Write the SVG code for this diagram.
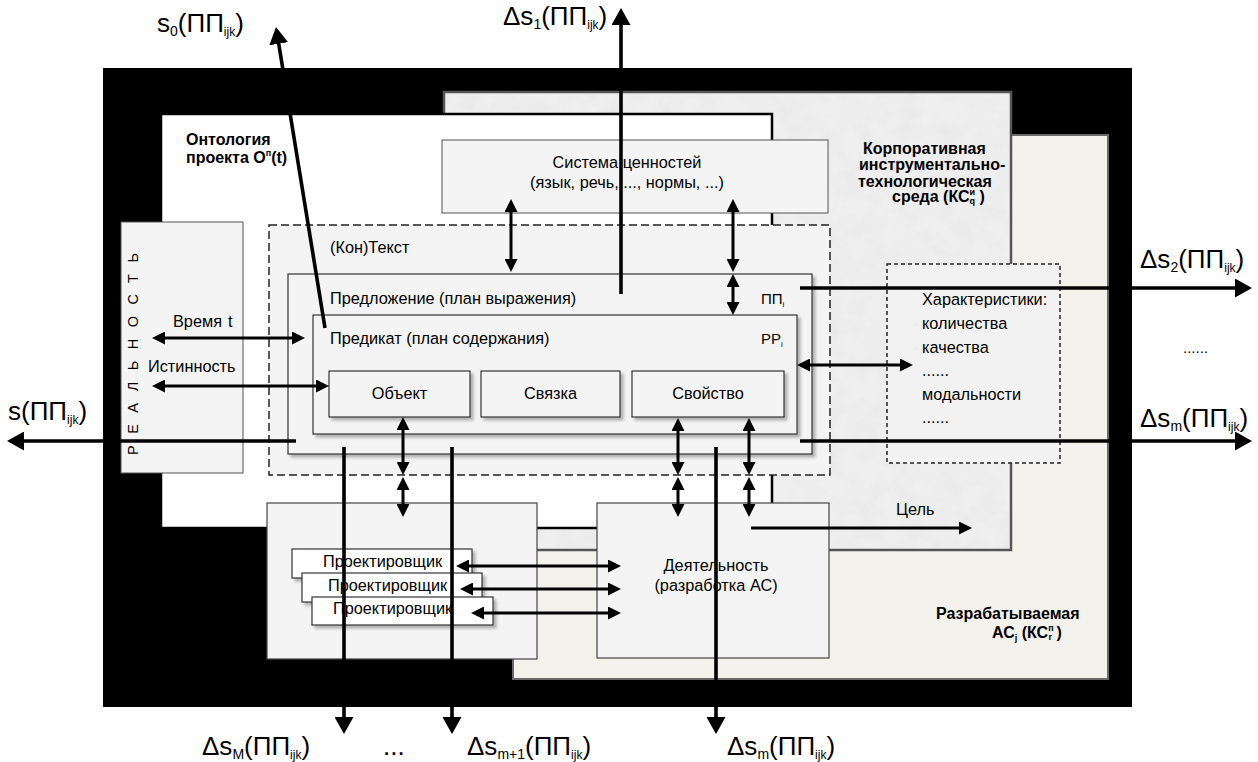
<svg xmlns="http://www.w3.org/2000/svg" width="1258" height="762" viewBox="0 0 1258 762">
<style>
text{font-family:"Liberation Sans",Arial,Helvetica,sans-serif;fill:#000}
.t16{font-size:16.3px}
.t15{font-size:15px}
.b{font-size:16px;font-weight:bold}
.big{font-size:26px}
.box{fill:#f4f4f4;stroke:#333;stroke-width:1.2}
.wbox{fill:#fff;stroke:#333;stroke-width:1.2}
.c{fill:none;stroke:#000;stroke-width:3}
.co{fill:none;stroke:#000;stroke-width:3.6}
.bi{marker-start:url(#am);marker-end:url(#am)}
.one{marker-end:url(#am)}
.out{marker-end:url(#ab)}
</style>
<defs>
<marker id="ab" markerUnits="userSpaceOnUse" markerWidth="17" markerHeight="19" viewBox="0 0 17 19" refX="2" refY="9.5" orient="auto-start-reverse"><path d="M0,0 L17,9.5 L0,19 z" fill="#000"/></marker>
<marker id="am" markerUnits="userSpaceOnUse" markerWidth="13" markerHeight="13" viewBox="0 0 13 13" refX="2" refY="6.5" orient="auto-start-reverse"><path d="M0,0 L13,6.5 L0,13 z" fill="#000"/></marker>
<filter id="sh" x="-10%" y="-10%" width="130%" height="140%"><feDropShadow dx="3" dy="3" stdDeviation="1.8" flood-color="#000" flood-opacity="0.28"/></filter>
<filter id="noise" x="0" y="0" width="1" height="1"><feTurbulence type="fractalNoise" baseFrequency="0.05" numOctaves="3" seed="7" result="n"/><feColorMatrix in="n" type="matrix" values="0 0 0 0 0.6  0 0 0 0 0.6  0 0 0 0 0.6  0.3 0 0 0 -0.1" result="g"/><feComposite in="g" in2="SourceGraphic" operator="in"/></filter>
</defs>

<g id="background">
<rect x="103" y="68" width="1029" height="639" fill="#000"/>
</g>

<g id="developed-system">
<rect x="513" y="135" width="595" height="544" fill="#f3f2ec" stroke="#6a6a6a" stroke-width="2"/>
<text class="b" x="936" y="619">Разрабатываемая</text>
<text class="b" x="992" y="638">АС<tspan font-size="9" dy="3">j</tspan><tspan dy="-3"> (КС</tspan><tspan font-size="9" dy="-7">п</tspan><tspan font-size="9" dx="-5" dy="9">r</tspan><tspan dy="-2"> )</tspan></text>
</g>

<g id="corporate-env">
<rect x="444" y="92" width="567" height="458" fill="#efefef" stroke="#555" stroke-width="2.5"/>
<rect x="445.5" y="93.5" width="564" height="455" fill="#fff" filter="url(#noise)"/>
<text class="b" x="863" y="153.5">Корпоративная</text>
<text class="b" x="859" y="170">инструментально-</text>
<text class="b" x="858" y="186.5">технологическая</text>
<text class="b" x="892" y="202">среда  (КС<tspan font-size="9" dy="-7">и</tspan><tspan font-size="9" dx="-5.5" dy="9">q</tspan><tspan dy="-2"> )</tspan></text>
</g>

<g id="ontology">
<rect x="161" y="114" width="611" height="414" fill="#fff" stroke="#000" stroke-width="2.5"/>
<text class="b" x="186" y="145">Онтология</text>
<text class="b" x="186" y="163">проекта O<tspan font-size="9" dy="-7">п</tspan><tspan dy="7">(t)</tspan></text>
</g>

<g id="reality">
<rect x="121" y="222" width="122" height="251" fill="#f4f4f4" stroke="#555" stroke-width="1"/>
<text transform="translate(138,455) rotate(-90)" font-size="14.5" textLength="202" lengthAdjust="spacing">РЕАЛЬНОСТЬ</text>
<text class="t16" x="173" y="327">Время  <tspan x="228">t</tspan></text>
<text class="t16" x="148" y="372">Истинность</text>
</g>

<g id="values">
<rect x="442" y="140" width="386" height="73" fill="#f4f4f4" stroke="#555" stroke-width="1"/>
<text class="t16" x="627" y="168" text-anchor="middle">Система ценностей</text>
<text class="t16" x="627" y="188" text-anchor="middle">(язык, речь, ..., нормы, ...)</text>
</g>

<g id="context">
<rect x="269" y="225" width="561" height="250" fill="#f4f4f4" stroke="#222" stroke-width="1.5" stroke-dasharray="8,4"/>
<text class="t16" x="330" y="253">(Кон)Текст</text>
</g>

<g id="sentence">
<rect x="288" y="274" width="524" height="180" class="box" filter="url(#sh)"/>
<text class="t16" x="330" y="304">Предложение (план выражения)</text>
<text class="t15" x="761" y="304">ПП<tspan font-size="8" dy="3">i</tspan></text>
</g>

<g id="predicate">
<rect x="313" y="315" width="484" height="119" class="box" filter="url(#sh)"/>
<text class="t16" x="330" y="344">Предикат (план содержания)</text>
<text class="t15" x="761" y="344">PP<tspan font-size="8" dy="3">i</tspan></text>
</g>

<g id="object">
<rect x="329" y="371" width="141" height="46" class="box" filter="url(#sh)"/>
<text class="t16" x="399.5" y="399" text-anchor="middle">Объект</text>
</g>
<g id="link">
<rect x="481" y="371" width="139" height="46" class="box" filter="url(#sh)"/>
<text class="t16" x="550.5" y="399" text-anchor="middle">Связка</text>
</g>
<g id="property">
<rect x="632" y="371" width="152" height="46" class="box" filter="url(#sh)"/>
<text class="t16" x="708" y="399" text-anchor="middle">Свойство</text>
</g>

<g id="characteristics">
<rect x="887" y="264" width="173" height="199" fill="#f2f2f2" stroke="#222" stroke-width="1.5" stroke-dasharray="4,3"/>
<text class="t16" x="922" y="305">Характеристики:</text>
<text class="t16" x="922" y="329">количества</text>
<text class="t16" x="922" y="353">качества</text>
<text class="t16" x="922" y="376">......</text>
<text class="t16" x="922" y="400">модальности</text>
<text class="t16" x="922" y="423">......</text>
</g>

<g id="designers">
<rect x="267" y="503" width="270" height="156" fill="#f4f4f4" stroke="#444" stroke-width="1.2"/>
<rect x="292" y="549" width="180" height="29" class="wbox" filter="url(#sh)"/>
<text class="t16" x="323" y="567">Проектировщик</text>
<rect x="302" y="573" width="180" height="29" class="wbox" filter="url(#sh)"/>
<text class="t16" x="328" y="591">Проектировщик</text>
<rect x="312" y="597" width="181" height="28" class="wbox" filter="url(#sh)"/>
<text class="t16" x="333" y="614">Проектировщик</text>
</g>

<g id="activity">
<rect x="597" y="503" width="232" height="155" fill="#f4f4f4" stroke="#444" stroke-width="1.2"/>
<text class="t16" x="716" y="571" text-anchor="middle">Деятельность</text>
<text class="t16" x="716" y="591" text-anchor="middle">(разработка АС)</text>
</g>

<g id="labels">
<text class="big" x="157" y="32">s<tspan font-size="14" dy="4">0</tspan><tspan dy="-4">(ПП</tspan><tspan font-size="12" dy="4">ijk</tspan><tspan dy="-4">)</tspan></text>
<text class="big" x="503" y="25">Δs<tspan font-size="14" dy="4">1</tspan><tspan dy="-4">(ПП</tspan><tspan font-size="12" dy="4">ijk</tspan><tspan dy="-4">)</tspan></text>
<text class="big" x="1140" y="268">Δs<tspan font-size="14" dy="4">2</tspan><tspan dy="-4">(ПП</tspan><tspan font-size="12" dy="4">ijk</tspan><tspan dy="-4">)</tspan></text>
<text class="big" x="1140" y="427">Δs<tspan font-size="14" dy="4">m</tspan><tspan dy="-4">(ПП</tspan><tspan font-size="12" dy="4">ijk</tspan><tspan dy="-4">)</tspan></text>
<text class="t15" x="1183" y="353">......</text>
<text class="big" x="8" y="420">s(ПП<tspan font-size="12" dy="4">ijk</tspan><tspan dy="-4">)</tspan></text>
<text class="big" x="202" y="755">Δs<tspan font-size="14" dy="4">M</tspan><tspan dy="-4">(ПП</tspan><tspan font-size="12" dy="4">ijk</tspan><tspan dy="-4">)</tspan></text>
<text class="big" x="383" y="755">...</text>
<text class="big" x="467" y="755">Δs<tspan font-size="14" dy="4">m+1</tspan><tspan dy="-4">(ПП</tspan><tspan font-size="12" dy="4">ijk</tspan><tspan dy="-4">)</tspan></text>
<text class="big" x="727" y="755">Δs<tspan font-size="14" dy="4">m</tspan><tspan dy="-4">(ПП</tspan><tspan font-size="12" dy="4">ijk</tspan><tspan dy="-4">)</tspan></text>
<text class="t16" x="896" y="515">Цель</text>
</g>

<g id="connectors">
<path class="co out" d="M325,328 L278.4,41.8"/>
<path class="co out" d="M621,294 V23"/>
<path class="co out" d="M800,288 H1237"/>
<path class="co out" d="M800,441 H1237"/>
<path class="co out" d="M296,441 H22"/>
<path class="co out" d="M344,447 V719"/>
<path class="co out" d="M452,447 V719"/>
<path class="co out" d="M716,447 V719"/>
<path class="c bi" d="M163,338 H294"/>
<path class="c bi" d="M163,386 H318"/>
<path class="c bi" d="M511,210 V261"/>
<path class="c bi" d="M733,210 V261"/>
<path class="c bi" d="M733,285 V304"/>
<path class="c bi" d="M808,365 H902"/>
<path class="c bi" d="M403,428 V464"/>
<path class="c bi" d="M403,488 V506"/>
<path class="c bi" d="M678,429 V464"/>
<path class="c bi" d="M749,429 V464"/>
<path class="c bi" d="M678,488 V506"/>
<path class="c bi" d="M749,488 V506"/>
<path class="c bi" d="M467,566 H610"/>
<path class="c bi" d="M471,589 H610"/>
<path class="c bi" d="M482,613 H610"/>
<path class="c one" d="M751,528 H961"/>
</g>
</svg>
